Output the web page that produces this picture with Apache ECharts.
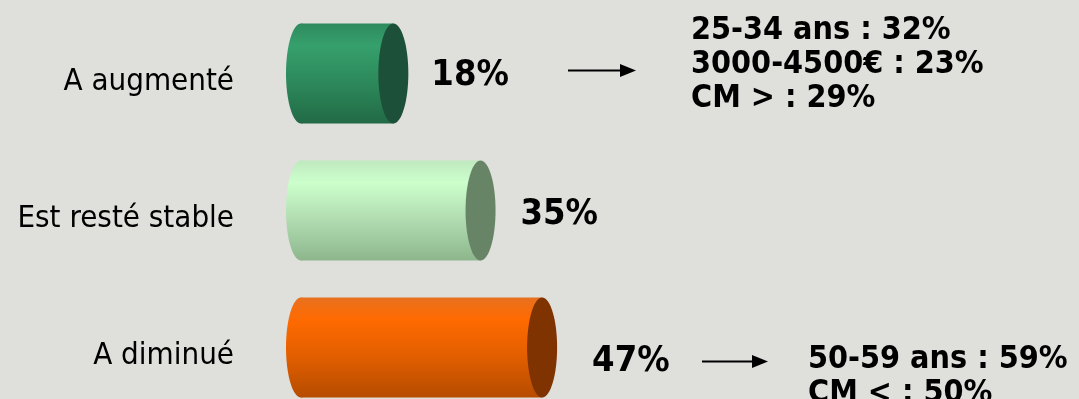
<!DOCTYPE html>
<html>
<head>
<meta charset="utf-8">
<script src="https://cdn.jsdelivr.net/npm/echarts@6/dist/echarts.min.js"></script>
<style>
  html, body { margin: 0; padding: 0; background: #dfdfdb; }
  #chart { width: 1079px; height: 399px; }
</style>
</head>
<body>
<div id="chart"></div>
<script>
// Evolution: categories, shares and the breakdown notes shown beside them
const categories = ['A augmenté', 'Est resté stable', 'A diminué'];
const values = [18, 35, 47];
const details = [
  ['25-34 ans : 32%', '3000-4500€ : 23%', 'CM > : 29%'],
  [],
  ['50-59 ans : 59%', 'CM < : 50%']
];

// Cylinder palettes: body gradient stops and end-cap colour
const palettes = [
  { stops: ['#2e8a5d', '#36a06c', '#2c885a', '#226a46'], cap: '#1d5038' },
  { stops: ['#bfe9bf', '#ccffcc', '#b0dbb0', '#8db68d'], cap: '#678566' },
  { stops: ['#e8711f', '#ff6a00', '#e15e00', '#b64b00'], cap: '#7f3300' }
];

// Label placement per row: [dx from cylinder end, dy from row centre]
const labelShift = [[23, 2], [25, 4], [35, 14]];
// Note placement per row: arrow start/end x, text x, arrow dy, text block dy
const noteLayout = [
  { ax1: 568, ax2: 636, tx: 691, ady: -3, tdy: -9 },
  null,
  { ax1: 702, ax2: 768, tx: 808, ady: 14, tdy: 29 }
];

const FONT = '"DejaVu Sans Condensed", "DejaVu Sans", sans-serif';
const CAP_RX = 15;
const BAR_H = 100;

function renderCylinder(params, api) {
  const i = api.value(1);
  const end = api.coord([api.value(0), i]);
  const start = api.coord([0, i]);
  const h = BAR_H;
  const cy = end[1];
  const pal = palettes[i];
  const grad = new echarts.graphic.LinearGradient(0, 0, 0, 1, [
    { offset: 0, color: pal.stops[0] },
    { offset: 0.22, color: pal.stops[1] },
    { offset: 0.6, color: pal.stops[2] },
    { offset: 1, color: pal.stops[3] }
  ]);
  const children = [
    { type: 'ellipse', shape: { cx: start[0], cy: cy, rx: CAP_RX, ry: h / 2 }, style: { fill: grad } },
    { type: 'rect', shape: { x: start[0], y: cy - h / 2, width: end[0] - start[0], height: h }, style: { fill: grad } },
    { type: 'ellipse', shape: { cx: end[0], cy: cy, rx: CAP_RX, ry: h / 2 }, style: { fill: pal.cap } },
    {
      type: 'text',
      style: {
        x: end[0] + CAP_RX + labelShift[i][0], y: cy + labelShift[i][1],
        text: api.value(0) + '%', fill: '#000',
        font: 'bold 36px ' + FONT, verticalAlign: 'middle', align: 'left'
      }
    }
  ];
  const note = noteLayout[i];
  if (note && details[i].length) {
    const ay = cy + note.ady;
    children.push(
      { type: 'line', shape: { x1: note.ax1, y1: ay, x2: note.ax2 - 12, y2: ay }, style: { stroke: '#000', lineWidth: 2 } },
      { type: 'polygon', shape: { points: [[note.ax2 - 16, ay - 6.5], [note.ax2, ay], [note.ax2 - 16, ay + 6.5]] }, style: { fill: '#000' } },
      {
        type: 'text',
        style: {
          x: note.tx, y: cy + note.tdy,
          text: details[i].join('\n'), fill: '#000',
          font: 'bold 32px ' + FONT, lineHeight: 34,
          verticalAlign: 'middle', align: 'left'
        }
      }
    );
  }
  return { type: 'group', children: children };
}

const chart = echarts.init(document.getElementById('chart'), null, { renderer: 'canvas' });
chart.setOption({
  backgroundColor: '#dfdfdb',
  animation: false,
  grid: { left: 301, top: 5, width: 513, height: 411, containLabel: false, outerBoundsMode: 'none' },
  xAxis: { type: 'value', min: 0, max: 100, show: false },
  yAxis: {
    type: 'category', data: categories, inverse: true,
    axisLine: { show: false }, axisTick: { show: false }, splitLine: { show: false },
    axisLabel: {
      margin: 67, color: '#000', fontSize: 31, fontFamily: FONT,
      verticalAlign: 'top', lineHeight: 16
    }
  },
  series: [{
    type: 'custom',
    renderItem: renderCylinder,
    encode: { x: 0, y: 1 },
    clip: false,
    data: values.map((v, i) => [v, i])
  }]
});
</script>
</body>
</html>
